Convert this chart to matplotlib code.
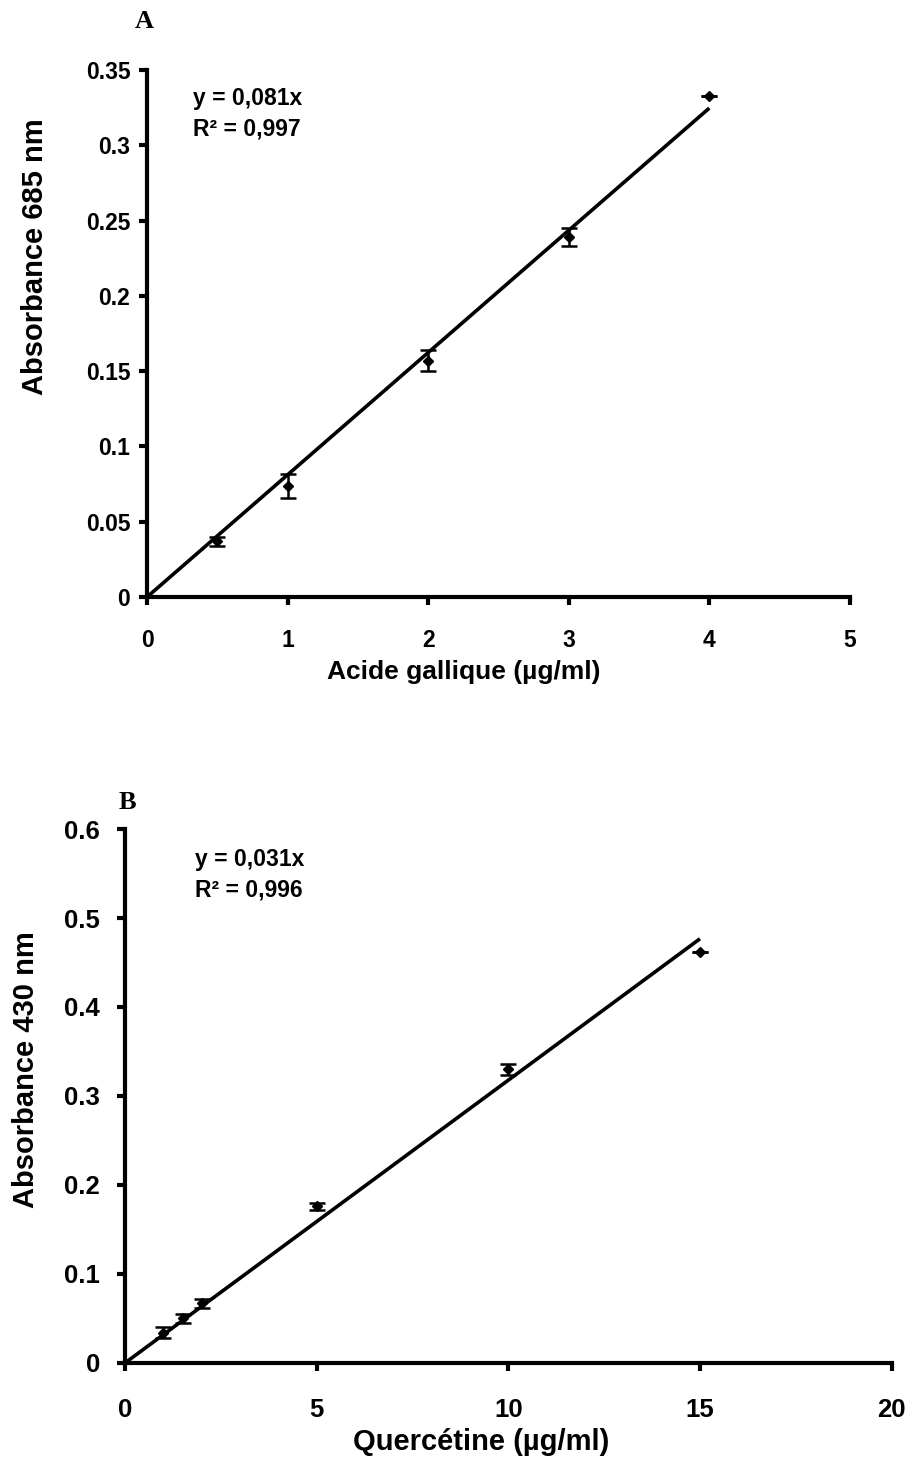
import numpy as np
import matplotlib
matplotlib.use('Agg')
import matplotlib.pyplot as plt

plt.rcParams['font.family'] = ['Liberation Sans', 'DejaVu Sans']
plt.rcParams['font.weight'] = 'bold'

# Panel A : acide gallique
gallic_conc = [0.5, 1, 2, 3, 4]
gallic_abs = [0.037, 0.074, 0.157, 0.239, 0.333]
gallic_err = [0.003, 0.008, 0.007, 0.006, 0.0]
gallic_xticks = [0, 1, 2, 3, 4, 5]
gallic_yticks = [0, 0.05, 0.1, 0.15, 0.2, 0.25, 0.3, 0.35]
gallic_ytick_labels = ['0', '0.05', '0.1', '0.15', '0.2', '0.25', '0.3', '0.35']

# Panel B : quercetine
querc_conc = [1, 1.5, 2, 5, 10, 15]
querc_abs = [0.034, 0.050, 0.067, 0.176, 0.330, 0.462]
querc_err = [0.006, 0.005, 0.005, 0.004, 0.006, 0.0]
querc_xticks = [0, 5, 10, 15, 20]
querc_yticks = [0, 0.1, 0.2, 0.3, 0.4, 0.5, 0.6]
querc_ytick_labels = ['0', '0.1', '0.2', '0.3', '0.4', '0.5', '0.6']


def fit_origin(x, y):
    # least squares through the origin (Excel trendline, intercept = 0)
    x = np.array(x)
    y = np.array(y)
    return (x * y).sum() / (x * x).sum()


def style_axes(ax, xpad, ypad, tick_size):
    for side in ['top', 'right']:
        ax.spines[side].set_visible(False)
    for side in ['left', 'bottom']:
        ax.spines[side].set_linewidth(3)
    ax.tick_params(axis='both', direction='out', width=3, length=6, labelsize=tick_size)
    ax.tick_params(axis='x', pad=xpad)
    ax.tick_params(axis='y', pad=ypad)
    for lab in ax.get_xticklabels() + ax.get_yticklabels():
        lab.set_fontweight('bold')


def draw_panel(ax, x, y, err, xmax, ymax, xticks, yticks, ylabels,
               xlabel, ylabel, label_sizes, xlab_pos, ylab_pos, eq_text, eq_pos):
    slope = fit_origin(x, y)
    xs = np.array([0, max(x)])
    ax.plot(xs, slope * xs, color='black', lw=2.6, solid_capstyle='butt', zorder=2)
    ax.errorbar(x, y, yerr=err, fmt='D', color='black', ms=5,
                ecolor='black', elinewidth=1.8, capsize=5.5, capthick=1.8, zorder=3)
    ax.set_xlim(0, xmax)
    ax.set_ylim(0, ymax)
    ax.set_xticks(xticks)
    ax.set_yticks(yticks)
    ax.set_yticklabels(ylabels)
    ax.set_xlabel(xlabel, fontsize=label_sizes[0], fontweight='bold')
    ax.set_ylabel(ylabel, fontsize=label_sizes[1], fontweight='bold')
    ax.xaxis.set_label_coords(*xlab_pos)
    ax.yaxis.set_label_coords(*ylab_pos)
    ax.xaxis.label.set_va('center')
    ax.yaxis.label.set_va('center')
    ax.text(eq_pos[0], eq_pos[1], eq_text, transform=ax.transAxes,
            fontsize=16.5, fontweight='bold', va='top', ha='left', linespacing=1.4)


fig = plt.figure(figsize=(9.08, 14.58), dpi=100)

# axes placed from the reference pixel layout
axA = fig.add_axes([0.1619, 0.5905, 0.936 - 0.1619, 0.952 - 0.5905])
draw_panel(axA, gallic_conc, gallic_abs, gallic_err, 5, 0.35,
           gallic_xticks, gallic_yticks, gallic_ytick_labels,
           'Acide gallique (µg/ml)', 'Absorbance 685 nm', (19, 21),
           (0.45, -0.142), (-0.159, 0.645),
           'y = 0,081x\nR² = 0,997', (0.065, 0.968))
style_axes(axA, 17, 6, 16.5)
fig.text(144 / 908, 1 - 21 / 1458, 'A', family='Liberation Serif',
         fontsize=19, fontweight='bold', ha='center', va='center')

axB = fig.add_axes([0.1377, 0.0652, 0.982 - 0.1377, 0.4314 - 0.0652])
draw_panel(axB, querc_conc, querc_abs, querc_err, 20, 0.6,
           querc_xticks, querc_yticks, querc_ytick_labels,
           'Quercétine (µg/ml)', 'Absorbance 430 nm', (21, 21),
           (0.465, -0.148), (-0.129, 0.549),
           'y = 0,031x\nR² = 0,996', (0.091, 0.964))
style_axes(axB, 19, 12, 18.5)
fig.text(127 / 908, 1 - 803 / 1458, 'B', family='Liberation Serif',
         fontsize=19, fontweight='bold', ha='center', va='center')

fig.savefig('out.png', dpi=100)
